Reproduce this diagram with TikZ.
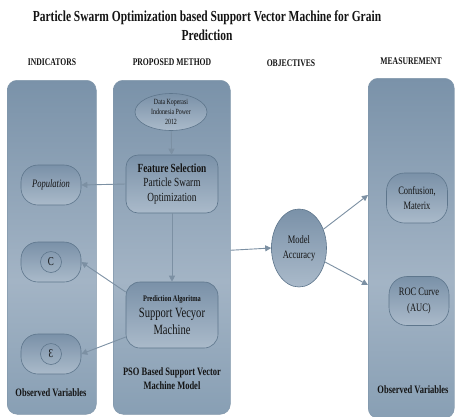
\documentclass[tikz,border=0pt]{standalone}
\usepackage{fontspec}
\setmainfont{Liberation Serif}[FakeStretch=0.75]
\usetikzlibrary{arrows.meta,shapes.geometric}
\definecolor{ptop}{HTML}{7A92A9}
\definecolor{pmid}{HTML}{A3B4C5}
\definecolor{pbot}{HTML}{889FB4}
\definecolor{pedge}{HTML}{8197AB}
\definecolor{ntop}{HTML}{7A91A8}
\definecolor{nbot}{HTML}{AABACA}
\definecolor{nedge}{HTML}{5E768C}
\definecolor{arrc}{HTML}{7C90A3}
\definecolor{txt}{HTML}{141414}
\pgfdeclareverticalshading{panelshade}{100bp}{color(0bp)=(pbot); color(25bp)=(pbot); color(45bp)=(pmid); color(75bp)=(ptop); color(100bp)=(ptop)}
\begin{document}
\begin{tikzpicture}[x=1pt,y=-1pt,
  panel/.style={draw=pedge, line width=0.5pt, rounded corners=10pt, shading=panelshade, inner sep=0pt, anchor=north west},
  box/.style={draw=nedge, line width=0.6pt, top color=ntop, bottom color=nbot, inner sep=1pt, align=center, text=txt},
  conn/.style={draw=arrc, line width=0.9pt, -{Triangle[length=6pt,width=6pt]}},
  lbl/.style={text=txt, align=center, inner sep=0pt},
  head/.style={lbl, font=\fontsize{10.2}{12}\selectfont\bfseries}]

\path[use as bounding box, clip] (0,0) rectangle (455,416);
\fill[white] (0,0) rectangle (455,416);

% title
\node[lbl, font=\fontsize{15.3}{19}\selectfont\bfseries] (title) at (207,26)
  {Particle Swarm Optimization based Support Vector Machine for Grain\\Prediction};

% headers
\node[head] (hInd) at (52,62) {INDICATORS};
\node[head] (hPro) at (172,62) {PROPOSED METHOD};
\node[head] (hObj) at (291,63) {OBJECTIVES};
\node[head] (hMea) at (411,61) {MEASUREMENT};

% panels
\node[panel, minimum width=89pt, minimum height=334pt] (pL) at (7,80) {};
\node[panel, minimum width=117pt, minimum height=334pt] (pM) at (113,80) {};
\node[panel, minimum width=86pt, minimum height=340pt] (pR) at (368,78) {};

% proposed method
\node[box, ellipse, minimum width=72pt, minimum height=37pt, inner sep=-2pt,
  font=\fontsize{7.9}{9.8}\selectfont] (data) at (171,112) {Data Koperasi\\Indonesia Power\\2012};
\node[box, rounded corners=12pt, minimum width=92pt, minimum height=58pt,
  font=\fontsize{12.4}{14.8}\selectfont] (fs) at (172,184)
  {{\bfseries Feature Selection}\\Particle Swarm\\Optimization};
\node[box, rounded corners=14pt, minimum width=92pt, minimum height=66pt,
  font=\fontsize{14.1}{16.5}\selectfont] (svm) at (172,315)
  {{\fontsize{8.5}{9}\selectfont\bfseries Prediction Algoritma}\\Support Vecyor\\Machine};
\node[lbl, font=\fontsize{11.3}{14}\selectfont\bfseries] (pso) at (172,379)
  {PSO Based Support Vector\\Machine Model};

% indicators
\node[box, rounded corners=17pt, minimum width=60pt, minimum height=40pt,
  font=\fontsize{11.3}{12}\selectfont\itshape] (pop) at (51,185) {Population};
\node[box, rounded corners=17pt, minimum width=60pt, minimum height=40pt] (cbox) at (51,262) {};
\node[circle, draw=nedge, line width=0.6pt, minimum size=21pt, inner sep=0pt,
  text=txt, font=\fontsize{12}{12}\selectfont] (cc) at (cbox) {C};
\node[box, rounded corners=17pt, minimum width=60pt, minimum height=40pt] (eps) at (51,354) {};
\node[circle, draw=nedge, line width=0.6pt, minimum size=21pt, inner sep=0pt,
  text=txt, font=\fontsize{12}{12}\selectfont] (ec) at (eps) {Ɛ};
\node[lbl, font=\fontsize{11.3}{12}\selectfont\bfseries] (obsL) at (51,393) {Observed Variables};

% objectives
\node[box, ellipse, minimum width=55pt, minimum height=78pt, inner sep=0pt,
  font=\fontsize{11.3}{15}\selectfont] (acc) at (299,248) {Model\\Accuracy};

% measurement
\node[box, rounded corners=18pt, minimum width=61pt, minimum height=50pt,
  font=\fontsize{11.3}{15}\selectfont] (conf) at (417,198) {Confusion,\\Materix};
\node[box, rounded corners=18pt, minimum width=60pt, minimum height=49pt,
  font=\fontsize{11.3}{16}\selectfont] (roc) at (419,301) {ROC Curve\\(AUC)};
\node[lbl, font=\fontsize{11.3}{12}\selectfont\bfseries] (obsR) at (413,390) {Observed Variables};

\coordinate (r1) at (368,195);
\coordinate (r2) at (368,285);

% connectors
\draw[conn] (data) -- (fs);
\draw[conn] (fs.west) -- (pop.east);
\draw[conn] (fs) -- (svm);
\draw[conn] ([yshift=23pt]svm.west) -- (cbox.east);
\draw[conn] ([yshift=-22pt]svm.west) -- (eps.east);
\draw[conn] ([yshift=-3pt]pM.east) -- (acc.west);
\draw[conn] (acc) -- (r1);
\draw[conn] (acc) -- (r2);
\end{tikzpicture}
\end{document}
